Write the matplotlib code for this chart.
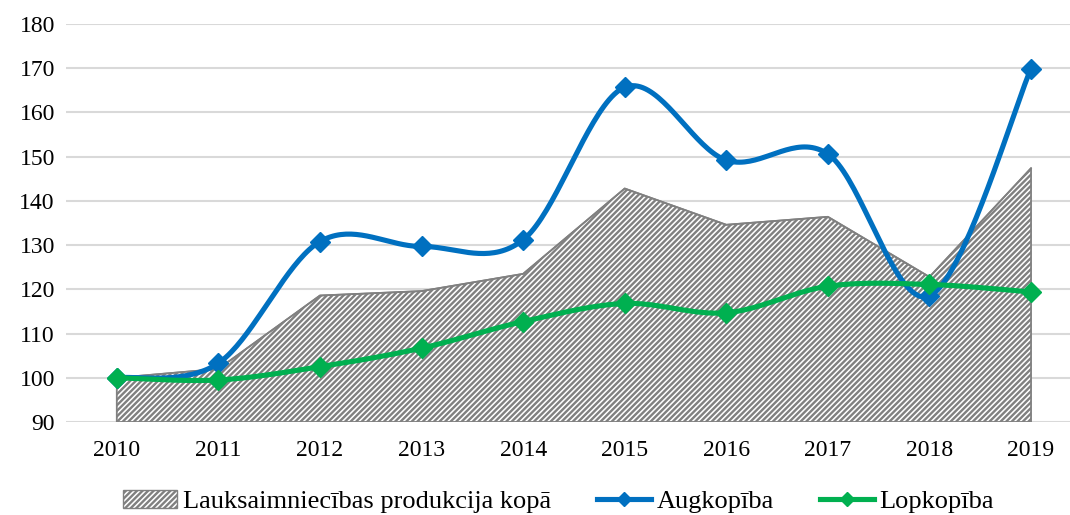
import numpy as np
import matplotlib
matplotlib.use("Agg")
from matplotlib import pyplot as plt
from matplotlib.patches import Patch
from matplotlib.lines import Line2D

plt.rcParams['font.family'] = ['Liberation Serif', 'DejaVu Serif']
plt.rcParams['hatch.linewidth'] = 1.7
plt.rcParams['hatch.color'] = '#808080'

years = ['2010', '2011', '2012', '2013', '2014', '2015', '2016', '2017', '2018', '2019']
kopa = [100, 102, 118.6, 119.6, 123.5, 142.8, 134.6, 136.4, 122.8, 147.4]
augkopiba = [100, 103.3, 130.8, 129.7, 131.2, 165.7, 149.2, 150.6, 118.5, 169.9]
lopkopiba = [100, 99.5, 102.5, 106.7, 112.7, 116.8, 114.7, 120.7, 121.1, 119.4]

def smooth(y, n=40):
    # excel-like smoothing: cubic bezier with catmull-rom control points
    x = np.arange(len(y), dtype=float)
    y = np.asarray(y, dtype=float)
    pts = np.column_stack([x, y])
    ext = np.vstack([pts[0], pts, pts[-1]])
    out = []
    t = np.linspace(0, 1, n)[:, None]
    for i in range(len(pts) - 1):
        p0, p3 = ext[i + 1], ext[i + 2]
        c1 = p0 + (ext[i + 2] - ext[i]) / 6.0
        c2 = p3 - (ext[i + 3] - ext[i + 1]) / 6.0
        seg = (1 - t) ** 3 * p0 + 3 * (1 - t) ** 2 * t * c1 + 3 * (1 - t) * t ** 2 * c2 + t ** 3 * p3
        out.append(seg if i == 0 else seg[1:])
    out = np.vstack(out)
    return out[:, 0], out[:, 1]

fig = plt.figure(figsize=(10.7, 5.15), dpi=100)
ax = fig.add_axes([66 / 1070, 93 / 515, 1 - 66 / 1070, 398 / 515])

x = np.arange(len(years))
ax.fill_between(x, 90, kopa, facecolor='white', edgecolor='#808080', hatch='//////', linewidth=1.3, zorder=2)
ax.plot(x, kopa, color='#808080', lw=1.2, zorder=2)

blue = '#0070C0'
green = '#00B050'
bx, by = smooth(augkopiba)
ax.plot(bx, by, color=blue, lw=3.7, zorder=3, solid_capstyle='round')
ax.plot(x, augkopiba, 'D', color=blue, ms=10.5, zorder=4)
gx, gy = smooth(lopkopiba)
ax.plot(gx, gy, color=green, lw=3.7, zorder=5, solid_capstyle='round')
ax.plot(x, lopkopiba, 'D', color=green, ms=10.5, zorder=6)

ax.set_ylim(90, 180)
ax.set_yticks(range(90, 181, 10))
ax.set_xlim(-0.5, 9 + (1070 - 1031) / 101.7)
ax.set_xticks(x)
ax.set_xticklabels(years)
ax.tick_params(length=0, labelsize=17)
ax.tick_params(axis='x', pad=13)
ax.tick_params(axis='y', pad=8)
ax.grid(axis='y', color='#d9d9d9', lw=1.5, zorder=0)
ax.set_axisbelow(True)
for s in ax.spines.values():
    s.set_visible(False)

handles = [
    Patch(facecolor='white', edgecolor='#808080', hatch='//////', lw=1.0),
    Line2D([], [], color=blue, lw=3.7, marker='D', ms=7),
    Line2D([], [], color=green, lw=3.7, marker='D', ms=7),
]
labels = ['Lauksaimniecības produkcija kopā', 'Augkopība', 'Lopkopība']
fig.legend(handles, labels, loc='lower center', bbox_to_anchor=(0.522, -0.043), ncol=3, frameon=False,
           fontsize=19, handlelength=2.05, handletextpad=0.2, columnspacing=1.75)

fig.savefig('out.png', dpi=100)
